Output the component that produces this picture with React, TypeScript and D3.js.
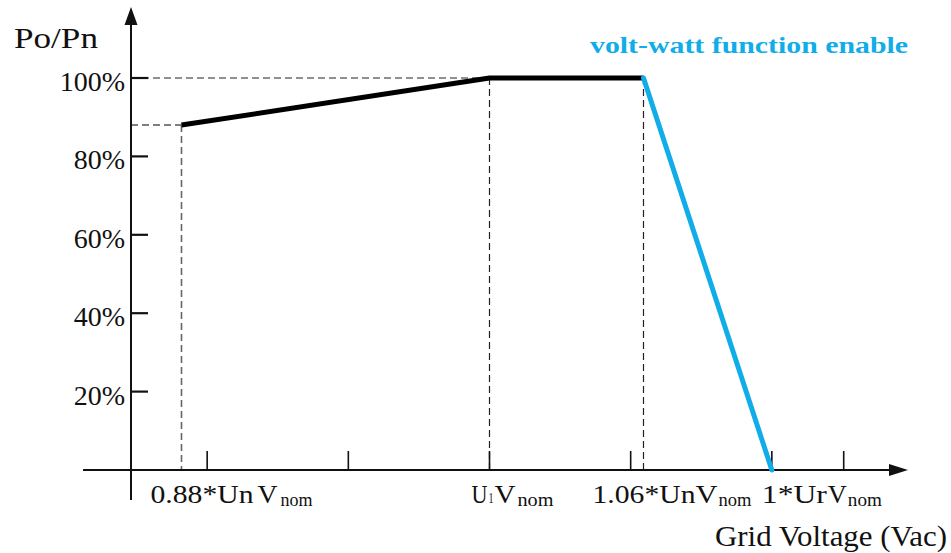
import React from "react";
import * as d3 from "d3";

// ---- data ----
const xTickValues = [0.89, 0.945, 1.0, 1.055, 1.11, 1.138]; // per-unit grid voltage
const yTickValues = [20, 40, 60, 80, 100];
const yTickLabels = ["20%", "40%", "60%", "80%", "100%"];
const normalVoltage = [0.88, 1.0, 1.06];
const normalPower = [88, 100, 100];
const voltWattVoltage = [1.06, 1.11];
const voltWattPower = [100, 0];
const guideVoltages = [0.88, 1.0, 1.06];
const guidePowers = [88, 100, 100];
const xLabelAnchors = [0.88, 1.0, 1.06, 1.11];

const W = 951;
const H = 553;
const BLUE = "#10ade8";
const FONT = "'Liberation Serif', 'Times New Roman', serif";

type Piece = { t: string; size: number; w: number; gap?: number; sub?: boolean };

const xLabelPieces: { offset: number; pieces: Piece[] }[] = [
  {
    offset: -31,
    pieces: [
      { t: "0.88*Un", size: 26, w: 103, gap: 4 },
      { t: "V", size: 26, w: 20, gap: 3 },
      { t: "nom", size: 19, w: 32, sub: true },
    ],
  },
  {
    offset: -18,
    pieces: [
      { t: "U", size: 26, w: 16, gap: 1 },
      { t: "1", size: 15, w: 5, gap: 1 },
      { t: "V", size: 26, w: 21, gap: 2 },
      { t: "nom", size: 19, w: 36, sub: true },
    ],
  },
  {
    offset: -51,
    pieces: [
      { t: "1.06*Un", size: 26, w: 103 },
      { t: "V", size: 26, w: 22, gap: 1 },
      { t: "nom", size: 19, w: 33, sub: true },
    ],
  },
  {
    offset: -10,
    pieces: [
      { t: "1*Ur", size: 26, w: 65, gap: 1 },
      { t: "V", size: 26, w: 19, gap: 1 },
      { t: "nom", size: 19, w: 34, sub: true },
    ],
  },
];

export default function App() {
  const x = d3.scaleLinear().domain([0.88, 1.0]).range([181.5, 489.5]);
  const y = d3.scaleLinear().domain([0, 100]).range([470, 78]);

  const yAxisX = 131;
  const xAxisY = y(0);
  const xAxisStart = 83;
  const xAxisEnd = 908;
  const yAxisTop = 7;
  const yAxisBottom = 500;

  const line = d3
    .line<[number, number]>()
    .x((d) => x(d[0]))
    .y((d) => y(d[1]));

  const normalPts = normalVoltage.map((v, i) => [v, normalPower[i]] as [number, number]);
  const vwPts = voltWattVoltage.map((v, i) => [v, voltWattPower[i]] as [number, number]);

  const dash = "7,4";

  return (
    <svg
      width={W}
      height={H}
      style={{ position: "absolute", left: 0, top: 0, background: "#fff" }}
      fontFamily={FONT}
    >
      <rect width={W} height={H} fill="#fff" />

      {/* dashed guide lines */}
      <line x1={yAxisX} x2={x(1.0)} y1={y(100)} y2={y(100)} stroke="#222" strokeWidth={1.2} strokeDasharray={dash} />
      <line x1={yAxisX} x2={x(0.88)} y1={y(88)} y2={y(88)} stroke="#555" strokeWidth={1.4} strokeDasharray={dash} />
      {guideVoltages.map((v, i) => (
        <line
          key={"g" + i}
          x1={x(v)}
          x2={x(v)}
          y1={y(guidePowers[i])}
          y2={xAxisY}
          stroke={i === 0 ? "#666" : "#222"}
          strokeWidth={i === 0 ? 1.6 : 1.2}
          strokeDasharray={dash}
        />
      ))}

      {/* axes */}
      <line x1={yAxisX} x2={yAxisX} y1={yAxisTop + 14} y2={yAxisBottom} stroke="#111" strokeWidth={2} />
      <path d={`M${yAxisX},${yAxisTop} L${yAxisX - 6.5},${yAxisTop + 18} L${yAxisX + 6.5},${yAxisTop + 18} Z`} fill="#111" />
      <line x1={xAxisStart} x2={xAxisEnd - 14} y1={xAxisY} y2={xAxisY} stroke="#111" strokeWidth={2} />
      <path d={`M${xAxisEnd},${xAxisY} L${xAxisEnd - 19},${xAxisY - 6} L${xAxisEnd - 19},${xAxisY + 6} Z`} fill="#111" />

      {/* y ticks */}
      {yTickValues.map((v, i) => (
        <g key={"yt" + i}>
          <line x1={yAxisX} x2={yAxisX + 17} y1={y(v)} y2={y(v)} stroke="#111" strokeWidth={2.2} />
          <text x={yAxisX - 6} y={y(v) + 13} textAnchor="end" fontSize={28} fill="#111">
            {yTickLabels[i]}
          </text>
        </g>
      ))}

      {/* x ticks */}
      {xTickValues.map((v, i) => (
        <line key={"xt" + i} x1={x(v)} x2={x(v)} y1={xAxisY} y2={xAxisY - 19} stroke="#111" strokeWidth={1.6} />
      ))}

      {/* curves */}
      <path d={line(normalPts) || ""} fill="none" stroke="#000" strokeWidth={5} strokeLinejoin="round" />
      <path d={line(vwPts) || ""} fill="none" stroke={BLUE} strokeWidth={5} strokeLinecap="round" />

      {/* x labels */}
      {xLabelPieces.map((lab, i) => {
        let cx = x(xLabelAnchors[i]) + lab.offset;
        return (
          <g key={"xl" + i}>
            {lab.pieces.map((p, j) => {
              const px = cx;
              cx += p.w + (p.gap || 0);
              return (
                <text
                  key={j}
                  x={px}
                  y={p.sub ? 506 : 503}
                  fontSize={p.size}
                  fill="#111"
                  textLength={p.w}
                  lengthAdjust="spacingAndGlyphs"
                >
                  {p.t}
                </text>
              );
            })}
          </g>
        );
      })}

      {/* axis titles */}
      <text x={14} y={48} fontSize={30} fill="#111" textLength={84} lengthAdjust="spacingAndGlyphs">
        Po/Pn
      </text>
      <text x={715} y={546} fontSize={29} fill="#111" textLength={232} lengthAdjust="spacingAndGlyphs">
        Grid Voltage (Vac)
      </text>
      <text
        x={590}
        y={53}
        fontSize={24}
        fontWeight="bold"
        fill={BLUE}
        textLength={318}
        lengthAdjust="spacingAndGlyphs"
      >
        volt-watt function enable
      </text>
    </svg>
  );
}
